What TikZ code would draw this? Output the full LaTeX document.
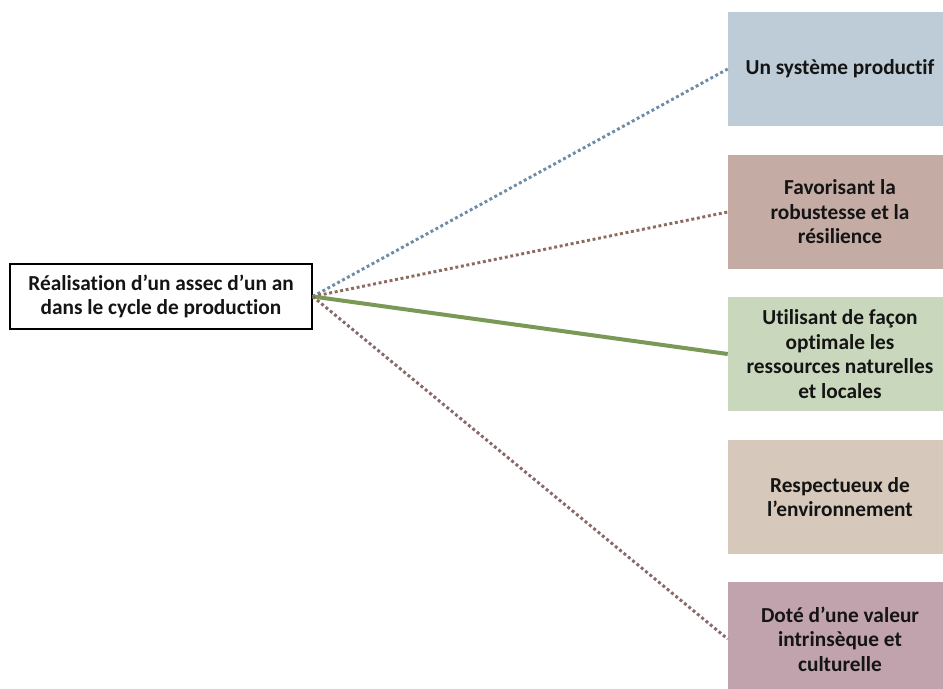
\documentclass[tikz,border=0pt]{standalone}
\usepackage{fontspec}
\setmainfont[Ligatures=NoCommon]{Carlito}
\usepackage{tikz}
\usetikzlibrary{positioning,calc}
\definecolor{bluebox}{RGB}{189,204,214}
\definecolor{brownbox}{RGB}{196,171,164}
\definecolor{greenbox}{RGB}{201,215,188}
\definecolor{beigebox}{RGB}{214,201,187}
\definecolor{mauvebox}{RGB}{193,163,173}
\definecolor{blueline}{RGB}{110,140,168}
\definecolor{brownline}{RGB}{140,108,95}
\definecolor{greenline}{RGB}{122,152,86}
\definecolor{mauveline}{RGB}{135,105,105}

\begin{document}
\begin{tikzpicture}[x=0.75pt,y=-0.75pt,
  txt/.style={font=\bfseries\fontsize{16}{18.4}\selectfont,align=center,text=black!92},
  goalbox/.style={txt,minimum width=168pt,minimum height=85.5pt,inner sep=0pt},
  dotline/.style={line width=2.2pt,dash pattern=on 2.2pt off 2pt}]
  \clip (0,0) rectangle (943,689);
  \fill[white] (0,0) rectangle (943,689);

  \node[txt,draw=black,line width=1.1pt,minimum width=226.5pt,minimum height=48.75pt] (assec) at (161,296.5) {R\'ealisation d’un assec d’un an\\dans le cycle de production};

  \node[goalbox,fill=bluebox] (syst) at (840,69) {Un syst\`eme productif};
  \node[goalbox,fill=brownbox] (robu) at (840,212) {Favorisant la\\robustesse et la\\r\'esilience};
  \node[goalbox,fill=greenbox] (ress) at (840,354) {Utilisant de fa\c{c}on\\optimale les\\ressources naturelles\\et locales};
  \node[goalbox,fill=beigebox] (envi) at (840,497) {Respectueux de\\l’environnement};
  \node[goalbox,fill=mauvebox] (valeur) at (840,639) {Dot\'e d’une valeur\\intrins\`eque et\\culturelle};

  \draw[dotline,blueline] (assec.east) -- (syst.west);
  \draw[dotline,brownline] (assec.east) -- (robu.west);
  \draw[greenline,line width=3pt] (assec.east) -- (ress.west);
  \draw[dotline,mauveline] (assec.east) -- (valeur.west);
\end{tikzpicture}
\end{document}
